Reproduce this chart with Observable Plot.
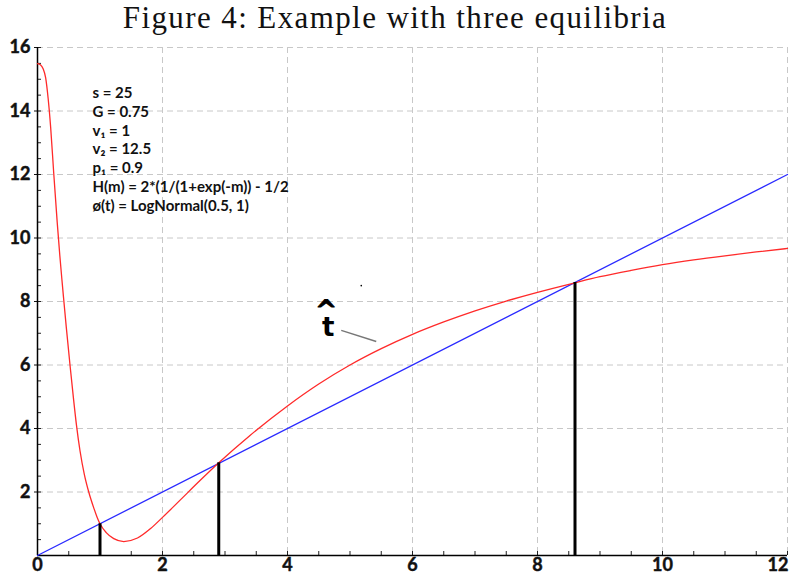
<!DOCTYPE html>
<html><head><meta charset="utf-8">
<script src="https://cdn.jsdelivr.net/npm/d3@7"></script>
<script src="https://cdn.jsdelivr.net/npm/@observablehq/plot@0.6"></script>
<style>
body{margin:0;background:#fff;}
#title{height:34px;font-family:"Liberation Serif","DejaVu Serif",serif;font-size:31px;letter-spacing:1.4px;text-align:center;line-height:36px;color:#111;white-space:nowrap;overflow:visible;}
#chart svg{display:block;overflow:visible;}
</style></head><body>
<div id="title">Figure 4: Example with three equilibria</div>
<div id="chart"></div>
<script>
// Red curve: h(t)
const curveT = [0, 0.05, 0.09, 0.13, 0.17, 0.21, 0.26, 0.315, 0.357, 0.39, 0.42, 0.46, 0.52, 0.57, 0.624, 0.68, 0.75, 0.82, 0.9, 0.955, 1.0, 1.1, 1.22, 1.38, 1.6, 1.81, 2.0, 2.29, 2.6, 2.9, 3.4, 4.0, 4.5, 5.0, 5.5, 6.0, 6.5, 7.0, 7.5, 8.0, 8.6, 9.0, 9.5, 10.0, 10.5, 11.0, 11.5, 12.0];
const curveV = [15.49, 15.45, 15.33, 15.05, 14.4, 13.5, 12.03, 10.5, 9.45, 8.7, 8.05, 7.2, 6.0, 5.05, 4.1, 3.3, 2.55, 2.0, 1.5, 1.2, 1.0, 0.72, 0.53, 0.44, 0.55, 0.85, 1.2, 1.76, 2.36, 2.92, 3.78, 4.71, 5.4, 6.0, 6.515, 6.965, 7.355, 7.705, 8.015, 8.29, 8.59, 8.78, 8.98, 9.16, 9.31, 9.44, 9.56, 9.67];
// Blue line: 45-degree line
const lineT = [0, 12];
const lineV = [0, 12];
// Equilibria (vertical bars)
const eqT = [1.0, 2.9, 8.6];
const eqV = [1.0, 2.92, 8.6];
// Ticks
const xTicks = [0, 2, 4, 6, 8, 10, 12];
const yTicks = [2, 4, 6, 8, 10, 12, 14, 16];
const xMinor = d3.range(0, 12.01, 0.5);
const yMinor = d3.range(0, 16.01, 0.5);
// Annotation text
const paramLines = ["s = 25", "G = 0.75", "v\u2081 = 1", "v\u2082 = 12.5", "p\u2081 = 0.9", "H(m) = 2*(1/(1+exp(-m)) - 1/2", "\u00f8(t) = LogNormal(0.5, 1)"];
const paramPos = [{t: 0.88, v: 12.82}];
const hatPos = [{t: 4.62, v: 7.7}];
const tPos = [{t: 4.65, v: 7.17}];
const pointer = [{t1: 4.86, v1: 7.09, t2: 5.42, v2: 6.74}];
const speck = [{t: 5.18, v: 8.5}];

const curve = curveT.map((t, i) => ({t, v: curveV[i]}));
const line = lineT.map((t, i) => ({t, v: lineV[i]}));
const eq = eqT.map((t, i) => ({t, v: eqV[i]}));

const font = "Lato, 'Open Sans', sans-serif";
const labelStyle = {fontSize: 18, fontWeight: "bold", fill: "#111", stroke: "#111", strokeWidth: 0.45, fontFamily: font};
const plot = Plot.plot({
  width: 790,
  height: 541,
  marginTop: 13,
  marginBottom: 20,
  marginLeft: 37,
  marginRight: 3,
  x: {domain: [0, 12], axis: null},
  y: {domain: [0, 16], axis: null},
  style: {fontFamily: font, background: "white"},
  marks: [
    Plot.gridX(xTicks.slice(1), {stroke: "#c8c8c8", strokeOpacity: 1, strokeDasharray: "6,4"}),
    Plot.gridY(yTicks, {stroke: "#c8c8c8", strokeOpacity: 1, strokeDasharray: "6,4"}),
    Plot.axisX(xMinor, {tickSize: -4, tickFormat: () => "", label: null, stroke: "#222"}),
    Plot.axisY(yMinor, {tickSize: -4, tickFormat: () => "", label: null, stroke: "#222"}),
    Plot.axisY(yTicks, {tickSize: 3, tickFormat: () => "", label: null, stroke: "#111"}),
    Plot.text(yTicks, {x: 0, y: d => d, text: d => String(d), textAnchor: "end", dx: -7, lineAnchor: "middle", ...labelStyle}),
    Plot.text(xTicks.slice(0, -1), {x: d => d, y: 0, text: d => String(d), lineAnchor: "top", dy: 3, ...labelStyle}),
    Plot.text(xTicks.slice(-1), {x: d => d, y: 0, text: d => String(d), lineAnchor: "top", textAnchor: "end", dx: 1, dy: 3, ...labelStyle}),
    Plot.ruleX([0], {stroke: "black", strokeWidth: 1.5}),
    Plot.ruleY([0], {stroke: "black", strokeWidth: 1.5}),
    Plot.line(line, {x: "t", y: "v", stroke: "#2a2aff", strokeWidth: 1.3}),
    Plot.line(curve, {x: "t", y: "v", stroke: "#ff2a2a", strokeWidth: 1.3, curve: "monotone-x"}),
    Plot.ruleX(eq, {x: "t", y1: 0, y2: "v", stroke: "black", strokeWidth: 3}),
    Plot.text(paramPos, {x: "t", y: "v", text: () => paramLines.join("\n"), textAnchor: "start", lineAnchor: "middle", lineHeight: 1.25, fontSize: 15, fontWeight: "bold", fill: "#111", fontFamily: font}),
    Plot.text(hatPos, {x: "t", y: "v", text: () => "^", lineAnchor: "middle", fontSize: 26, fontWeight: "bold", fill: "black", stroke: "black", strokeWidth: 0.9, fontFamily: "'DejaVu Sans', sans-serif"}),
    Plot.text(tPos, {x: "t", y: "v", text: () => "t", lineAnchor: "middle", fontSize: 26, fontWeight: "bold", fill: "black", fontFamily: "'DejaVu Sans', sans-serif"}),
    Plot.link(pointer, {x1: "t1", y1: "v1", x2: "t2", y2: "v2", stroke: "#777", strokeWidth: 1.5}),
    Plot.dot(speck, {x: "t", y: "v", r: 0.8, fill: "black", stroke: null})
  ]
});
document.getElementById("chart").appendChild(plot);
</script>
</body></html>
